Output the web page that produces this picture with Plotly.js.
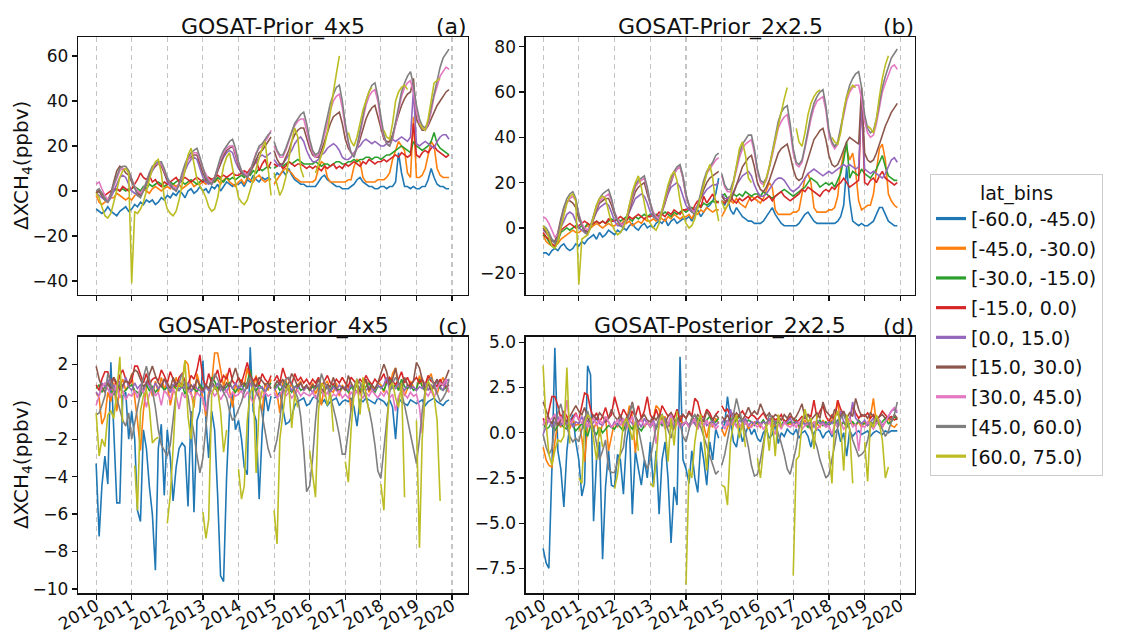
<!DOCTYPE html>
<html><head><meta charset="utf-8">
<script src="https://cdn.plot.ly/plotly-3.0.1.min.js"></script>
<style>html,body{margin:0;padding:0;background:#fff}#chart{width:1129px;height:634px}</style>
</head><body><div id="chart"></div>
<script>
// ---------------- categories / labels ----------------
const latBins = ['[-60.0, -45.0)','[-45.0, -30.0)','[-30.0, -15.0)','[-15.0, 0.0)','[0.0, 15.0)','[15.0, 30.0)','[30.0, 45.0)','[45.0, 60.0)','[60.0, 75.0)'];
const panelTitles = ['GOSAT-Prior_4x5','GOSAT-Prior_2x2.5','GOSAT-Posterior_4x5','GOSAT-Posterior_2x2.5'];
const panelTags = ['(a)','(b)','(c)','(d)'];
const firstYear = 2010, lastYear = 2019;

// ---------------- GOSAT-Prior_4x5 (ppbv), monthly Jan 2010 - Dec 2019 ----------------
const prior4x5_m60 = [-8,-9,-10,-9,-7,-9,-10,-11,-9,-8,-7,-9, -8,-6,-7,-5,-6,-4,-5,-4,-6,-5,-3,-4, -2,-3,-1,-2,0,-1,-3,0,1,-1,0,2, 0,1,-1,2,1,3,0,2,4,3,2,3, 3,4,2,5,4,7,5,4,6,5,6,5, 6,8,7,9,7,10,7,5,4,3,3,2, 2,2,2,4,6,7,5,4,3,2,2,1, 1,1,2,3,5,6,4,3,2,2,1,1, 2,2,1,2,2,4,17,8,2,2,1,2, 1,1,2,2,5,10,6,3,2,2,1,1];
const prior4x5_m45 = [-2,-5,-6,-5,-4,-3,-3,-1,-2,-3,-4,-3, -4,-2,-1,0,1,0,-1,1,2,1,0,1, 2,1,3,2,3,1,2,3,4,2,3,3, 4,3,4,5,4,5,3,5,6,4,3,2, 4,5,3,6,5,4,6,7,5,4,5,5, 3,5,7,9,10,9,8,6,5,4,4,4, 4,4,5,10,13,12,6,4,4,4,4,4, 4,5,5,11,14,13,6,4,4,4,4,5, 5,5,6,8,14,18,22,20,18,8,6,33, 6,6,7,10,16,22,20,10,7,6,6,6];
const prior4x5_m30 = [-1,0,-2,-3,-4,-2,0,1,0,1,0,1, 1,2,1,0,2,1,3,2,3,4,3,2, 3,4,3,4,5,4,3,4,5,4,3,4, 5,4,6,5,4,6,5,4,6,5,6,5, 6,7,6,8,7,9,8,10,9,10,11,10, 10,11,12,11,12,13,12,13,14,13,12,12, 12,12,13,12,11,12,12,11,12,13,13,12, 12,13,13,14,13,14,14,15,15,14,15,15, 14,15,16,16,17,18,19,20,19,18,17,22, 20,19,18,19,20,22,26,21,19,18,17,16];
const prior4x5_m15 = [0,0,-1,-2,-1,0,1,1,0,2,1,0, 1,3,5,8,6,5,7,4,5,3,2,4, 3,4,5,6,4,5,6,5,4,5,6,5, 4,5,6,5,6,7,6,7,6,7,8,7, 7,8,9,8,10,11,14,9,12,14,10,13, 12,11,12,10,11,13,12,11,12,12,11,10, 11,10,11,10,9,11,10,11,12,10,11,10, 12,11,12,13,12,11,13,12,14,13,12,13, 13,14,13,14,15,16,15,17,16,15,16,30, 16,15,17,18,17,19,20,18,17,16,15,16];
const prior4x5_p0 = [-1,-2,-3,-4,-5,-3,0,3,6,7,6,3, 0,-1,-2,-1,0,3,6,9,11,13,12,8, 4,2,1,1,3,6,9,12,14,15,14,10, 6,4,3,4,6,9,12,15,17,18,17,13, 10,8,7,7,9,11,13,15,16,15,16,17, 14,12,11,12,14,16,18,21,23,24,22,18, 15,13,13,14,16,17,19,20,21,20,18,15, 14,14,15,17,19,20,22,23,22,21,22,21, 20,20,21,22,23,22,23,24,23,22,24,45, 21,20,21,22,21,20,19,22,24,25,25,23];
const prior4x5_p15 = [-1,0,-2,-4,-4,-1,4,9,11,10,8,7, 4,1,-1,-2,0,3,7,10,11,12,11,8, 5,3,1,0,3,7,11,14,15,16,16,12, 8,5,4,3,5,9,13,16,18,19,20,16, 11,8,7,6,8,11,14,17,18,20,22,24, 18,14,12,12,15,18,22,25,27,28,28,24, 19,16,15,15,18,22,26,30,33,34,35,30, 23,19,17,16,19,23,28,32,35,37,38,33, 27,23,22,22,25,30,34,38,41,43,44,50, 32,29,27,27,29,32,35,38,40,42,44,45];
const prior4x5_p30 = [3,4,1,-2,-4,-2,2,6,9,10,10,9, 5,2,0,-1,1,4,8,10,12,12,12,9, 6,3,2,1,3,7,11,14,16,17,17,14, 10,7,5,4,6,10,14,17,19,20,20,17, 12,9,8,7,9,13,17,19,20,22,24,27, 20,17,15,15,18,22,26,29,31,32,32,27, 21,17,15,16,20,25,30,36,40,42,43,37, 28,21,17,16,19,25,32,38,42,44,45,40, 30,24,21,20,23,29,36,42,46,48,49,44, 35,30,28,27,30,35,42,47,51,53,55,54];
const prior4x5_p45 = [0,1,-1,-4,-5,-2,3,7,10,11,11,9, 5,1,-2,-3,0,4,8,11,12,13,13,10, 6,3,1,0,3,8,12,15,17,18,19,15, 10,6,4,3,6,11,15,18,20,22,23,19, 13,9,7,6,9,13,17,20,21,23,25,26, 22,18,16,16,19,23,27,30,32,34,35,30, 23,18,16,17,21,27,33,39,43,46,47,40, 30,22,17,15,20,27,34,40,44,47,48,42, 33,25,21,20,24,31,38,44,48,51,53,47, 38,32,29,28,31,37,44,50,55,59,61,63];
const prior4x5_p60 = [-1,-3,-7,-11,-12,-10,-5,1,6,9,10,8, -41,-9,-10,-8,-5,0,5,10,13,14,8,-3, -8,-10,-11,-9,-4,3,10,16,19,12,5,2, 0,-3,-7,-9,-8,-3,4,11,15,17,10,3, -3,-5,-6,-4,0,5,10,15,19,22,10,-2, 8,2,-2,1,6,14,22,28,24,10,6,null, null,null,8,12,16,20,26,34,44,52,60,null, null,26,22,20,24,30,36,40,44,46,null,null, null,27,24,23,30,40,44,46,47,45,null,null, null,30,28,27,32,40,48,49,50,null,null,null];

// ---------------- GOSAT-Prior_2x2.5 (ppbv) ----------------
const prior2x25_m60 = [-11,-11,-12,-10,-9,-10,-8,-7,-9,-10,-9,-7, -8,-6,-7,-5,-4,-3,-5,-2,-4,-3,-1,-2, -3,-1,-2,0,-1,1,2,0,-1,1,2,0, 1,0,2,3,2,4,1,3,4,2,3,4, 4,5,3,6,8,5,7,9,10,12,15,22, 12,10,13,8,6,9,7,5,4,3,3,2, 2,2,3,5,7,9,6,4,2,1,1,1, 1,1,2,4,6,7,5,3,2,2,2,2, 2,2,2,3,5,10,27,12,3,2,1,2, 1,1,2,3,6,9,9,6,3,2,1,1];
const prior2x25_m45 = [-3,-6,-7,-8,-8,-7,-5,-4,-3,-2,-1,-2, -2,-1,0,1,0,1,2,1,0,1,2,1, 1,2,1,3,2,3,1,2,3,2,4,3, 3,4,3,5,4,3,5,4,6,5,4,5, 5,6,4,7,6,8,7,9,8,7,8,8, 5,8,10,12,11,13,11,10,9,12,14,13, 12,11,13,17,20,18,8,6,6,6,6,6, 7,7,8,15,22,24,20,9,7,7,7,7, 8,8,9,14,26,33,35,30,33,25,12,8, 9,10,10,15,25,35,37,30,15,12,10,9];
const prior2x25_m30 = [-3,-4,-6,-8,-9,-6,-2,-1,0,-1,0,1, 0,1,0,2,1,2,3,2,3,2,3,4, 3,4,3,4,5,4,3,5,4,5,6,5, 6,5,6,5,6,7,6,5,7,6,7,8, 7,8,9,8,10,9,11,10,11,12,11,12, 14,15,13,14,15,14,15,14,16,15,14,15, 15,14,16,15,14,13,14,15,16,17,16,15, 14,15,16,17,18,20,22,21,20,18,19,20, 19,20,18,21,24,30,38,22,25,24,23,26, 24,23,22,24,26,29,32,27,23,22,21,21];
const prior2x25_m15 = [-2,-4,-5,-7,-8,-5,-1,0,1,2,1,0, 1,2,3,2,1,2,3,2,3,2,4,3, 3,4,5,4,3,5,4,5,6,5,4,5, 5,6,5,7,6,5,7,6,8,7,6,8, 8,9,7,10,12,9,14,11,13,15,12,11, 12,11,13,14,12,11,13,12,13,14,12,13, 14,13,12,13,14,12,14,15,16,14,13,12, 13,14,15,17,16,18,17,16,15,14,16,17, 16,18,17,19,20,22,20,18,19,20,21,58, 20,19,21,22,20,23,25,22,21,20,19,20];
const prior2x25_p0 = [-1,-2,-3,-5,-6,-4,0,3,6,7,6,3, 0,-1,-2,-1,1,4,7,9,10,11,10,7, 3,1,1,2,4,7,10,13,14,15,14,11, 7,5,4,5,8,12,15,18,19,20,18,14, 10,8,7,8,10,13,15,17,18,19,19,20, 15,13,13,14,16,19,21,23,24,25,23,19, 16,14,14,15,17,19,21,22,22,21,19,17, 16,17,18,20,22,24,25,26,25,24,23,24, 25,24,25,26,27,28,27,28,27,26,27,56, 26,25,24,25,24,23,22,24,27,30,31,29];
const prior2x25_p15 = [0,-2,-4,-6,-6,-2,4,9,12,12,11,9, 4,1,-1,-2,0,4,8,11,12,13,13,10, 6,3,2,1,3,8,12,16,18,19,20,15, 10,6,5,4,7,11,16,20,24,26,27,22, 14,10,8,7,9,13,17,20,22,23,24,25, 14,12,12,12,15,19,23,27,29,31,32,27, 20,17,16,18,21,25,29,33,35,36,37,32, 26,22,21,22,26,31,35,39,41,43,44,39, 32,28,27,28,31,35,38,40,39,38,37,62, 33,30,29,30,33,37,41,45,48,51,53,55];
const prior2x25_p30 = [5,4,2,-1,-4,-3,2,7,11,13,14,12, 6,2,0,-1,1,5,9,12,13,14,15,12, 7,4,2,1,4,9,14,18,20,21,22,17, 11,7,5,4,7,12,17,21,24,26,27,22, 14,10,8,7,10,15,20,24,26,28,30,31, 23,18,16,16,20,26,31,35,37,38,39,33, 25,20,19,21,26,32,38,44,47,49,50,43, 33,28,27,29,35,42,48,53,56,57,58,52, 41,37,35,37,43,50,56,60,62,63,63,57, 47,42,40,41,46,53,60,64,68,71,72,70];
const prior2x25_p45 = [1,0,-2,-5,-7,-4,3,9,13,15,16,13, 6,1,-2,-3,1,6,10,13,15,16,17,13, 7,3,1,0,4,10,15,19,21,22,23,18, 11,6,4,3,7,13,18,22,25,27,28,23, 15,10,7,6,10,16,21,25,27,29,32,33, 24,19,17,17,21,27,33,37,39,41,41,35, 26,21,20,22,27,34,41,47,51,53,54,46, 35,29,28,30,36,43,50,55,58,60,61,54, 43,38,36,38,44,51,58,63,66,68,69,62, 50,44,42,43,48,55,62,67,71,75,77,79];
const prior2x25_p60 = [1,-1,-4,-8,-9,-6,0,6,11,14,15,12, -25,-5,-4,-3,0,5,10,13,14,13,8,2, -1,-3,-2,0,4,10,16,20,23,18,10,4, 2,0,-1,2,8,14,19,23,25,21,12,6, 2,0,1,4,9,15,20,24,28,22,10,3, 12,8,10,14,20,28,35,38,32,22,20,null, null,null,18,22,27,33,40,46,52,57,62,null, null,44,38,36,42,50,55,58,60,61,null,null, null,40,38,37,42,52,58,61,63,62,null,null, null,45,44,42,48,58,66,72,76,null,null,null];

// ---------------- GOSAT-Posterior_4x5 (ppbv) ----------------
const post4x5_m60 = [-3.3,-7.2,-4.5,-2.9,-4.4,2.1,-1.5,-5.4,-5.4,0.3,0.5,-2.0, -0.5,-2.0,-5.8,-6.4,-1.5,-2.5,-4.5,-6.0,-9.0,-2.5,-1.2,-5.0, -1.5,-3.0,-5.3,-3.5,-2.5,-2.2,-2.4,-5.6,-0.5,-5.9,-1.0,-0.5, 2.2,-1.0,-3.0,-0.5,-1.5,-5.0,-9.3,-9.6,-4.0,-0.5,0.4,-1.5, -1.0,-2.0,-3.5,-3.9,2.9,-0.5,-1.0,-5.2,-1.6,0.5,-0.5,0.3, 0.2,0.3,0.5,-0.3,-1.2,-1.1,-0.8,-0.2,0.0,0.1,0.2,-0.2, -0.1,0.2,0.3,0.0,-0.1,0.1,-0.2,0.0,0.1,0.2,-0.2,0.0, 0.1,0.0,0.2,-0.3,-1.3,0.1,0.0,0.2,0.1,0.0,-0.1,0.2, 0.1,0.0,-0.2,0.1,-0.3,-2.0,0.2,0.0,-0.1,-0.2,0.1,0.0, -0.1,0.0,0.1,-0.2,0.0,0.1,0.2,0.0,-0.1,-0.2,0.0,0.1];
const post4x5_m45 = [0.5,0.2,-1.2,-0.8,0.5,0.0,1.0,-0.5,0.8,1.2,0.6,0.9, 1.5,0.3,-1.0,-2.6,-0.5,0.8,1.2,0.3,1.1,0.5,1.3,0.7, 1.0,-0.2,0.5,1.3,0.8,1.0,2.2,2.0,0.5,-0.3,1.5,0.8, 0.2,-0.8,0.5,1.0,2.6,2.6,1.8,0.8,1.5,0.6,-0.3,1.0, 0.5,1.2,0.8,1.8,1.0,0.7,1.4,0.2,-0.5,1.0,0.6,1.2, 0.8,0.4,-0.6,1.0,1.2,0.5,1.0,0.3,0.9,1.1,0.6,0.8, 0.7,1.0,0.4,0.8,-0.2,0.9,1.1,0.6,0.5,1.0,0.3,0.9, 0.6,0.9,-0.5,0.8,1.0,0.4,0.7,1.2,0.5,0.8,0.6,1.0, 0.9,0.5,1.2,0.8,1.5,1.8,0.6,1.0,0.3,0.7,1.1,0.8, 0.6,1.4,0.9,0.5,1.2,1.5,0.8,0.4,1.0,1.3,0.7,0.5];
const post4x5_m30 = [0.7,0.9,0.5,0.8,1.0,0.6,0.4,0.7,0.9,0.5,0.6,0.8, 0.9,0.6,0.5,0.3,0.7,0.9,0.6,0.8,0.5,0.7,0.9,0.6, 0.8,0.5,0.9,0.7,0.6,0.9,0.4,0.8,0.6,0.7,0.5,0.9, 0.7,0.8,0.6,1.3,1.1,0.7,0.9,0.6,0.8,1.0,0.7,0.5, 0.8,0.6,0.9,1.0,1.7,0.8,0.6,0.9,0.7,0.5,0.8,1.0, 0.7,0.9,0.6,0.8,1.0,0.7,0.5,0.8,0.9,0.6,0.7,0.8, 0.6,0.8,0.7,0.9,0.5,0.7,0.8,0.6,0.9,0.7,0.6,0.8, 0.7,0.5,0.8,0.6,0.9,0.7,0.6,0.8,1.0,0.7,0.5,0.8, 0.8,0.6,1.0,1.2,0.7,0.9,0.6,1.2,0.8,0.7,0.9,0.6, 0.7,1.2,0.8,0.6,1.0,0.7,0.9,1.1,0.7,0.6,0.8,0.9];
const post4x5_m15 = [0.9,0.6,1.2,1.6,1.6,1.0,1.3,0.8,1.4,1.7,1.2,0.9, 1.1,1.9,1.9,1.4,1.0,1.5,0.9,1.2,1.3,1.1,1.7,1.4, 1.0,1.6,1.2,0.8,1.3,1.5,1.1,0.9,1.4,1.2,1.7,2.5, 1.2,0.8,1.5,1.0,1.3,1.7,1.0,1.4,1.2,1.8,1.1,0.9, 1.3,1.0,1.5,2.1,1.4,1.1,1.3,0.9,1.5,1.2,1.0,1.4, 1.1,1.4,1.0,1.8,1.3,1.2,0.9,1.5,1.1,1.3,1.0,1.2, 0.9,1.2,1.0,1.3,0.8,1.1,1.4,1.0,0.9,1.2,1.0,1.3, 1.0,0.8,1.3,1.1,0.9,1.2,1.0,1.4,1.1,0.9,1.2,1.0, 1.2,1.5,1.0,1.3,1.1,0.9,1.2,1.6,1.0,1.3,0.9,1.1, 1.3,1.0,1.2,0.9,1.4,1.1,1.0,0.8,1.2,0.9,0.8,0.9];
const post4x5_p0 = [0.5,0.3,1.0,0.8,1.2,0.6,0.9,0.5,1.1,0.7,1.3,0.8, 0.6,1.0,0.7,0.9,0.5,1.1,0.8,0.6,1.0,0.7,0.9,1.2, 0.8,0.5,0.9,1.0,0.6,0.8,0.7,1.0,0.5,0.9,0.7,0.6, 0.5,0.8,0.6,0.9,0.7,1.0,0.6,0.8,0.5,0.9,0.7,1.0, 0.7,0.9,0.5,0.8,1.0,0.6,0.9,0.7,0.8,0.5,0.9,0.7, 0.6,0.8,1.0,0.7,0.5,0.9,0.6,0.8,0.7,1.0,0.6,0.8, 0.7,0.5,0.8,0.9,0.6,0.7,0.9,0.5,0.8,0.6,0.9,0.7, 0.8,0.6,0.9,0.7,0.5,0.8,1.0,0.6,0.8,0.7,0.6,0.9, 0.7,0.9,1.3,0.6,0.8,0.7,1.0,0.8,0.6,0.9,0.7,0.8, 0.6,0.8,0.7,1.0,0.6,0.9,0.7,1.2,0.8,0.6,1.1,1.2];
const post4x5_p15 = [1.9,1.2,0.8,0.5,1.0,0.7,1.3,1.0,0.6,0.9,1.1,1.0, 1.4,1.7,1.6,1.2,0.8,1.0,1.5,1.9,1.4,1.0,0.8,1.2, 1.0,0.7,1.3,0.9,1.1,0.8,1.0,0.6,0.9,0.7,1.2,0.8, 0.6,0.9,0.7,1.1,0.8,0.5,0.9,0.7,1.0,0.8,1.3,1.8, 1.2,0.9,1.0,0.7,1.4,1.0,0.8,1.3,1.1,0.9,1.0,0.7, 0.8,1.1,0.9,1.2,0.7,1.0,1.5,1.2,0.8,1.0,0.7,0.9, 0.6,0.9,0.8,1.2,0.7,0.5,0.9,0.8,1.3,0.7,0.5,0.8, 0.6,1.4,1.0,0.7,0.9,0.5,0.8,1.2,0.6,0.9,0.7,1.0, 1.5,2.0,1.6,0.9,1.2,1.8,1.0,0.7,1.3,0.9,0.8,1.1, 2.1,1.8,1.2,0.7,1.0,0.5,0.9,1.2,0.8,1.0,1.3,1.7];
const post4x5_p30 = [-0.2,0.3,0.8,1.0,0.7,0.3,0.5,0.9,0.2,0.6,0.1,0.4, 0.3,0.6,0.2,0.8,0.5,-0.3,0.4,0.7,0.3,0.5,-0.2,0.6, 0.4,0.1,0.7,0.3,-0.4,0.5,0.2,0.6,0.4,0.1,0.5,0.3, 0.2,-0.5,0.4,0.6,0.3,0.5,0.1,0.4,0.6,0.2,0.5,0.3, 0.4,0.6,0.2,0.5,0.3,-0.1,0.4,0.6,0.2,0.5,0.3,0.4, 0.5,0.2,0.4,0.6,0.3,0.5,0.2,0.4,0.6,0.3,0.5,0.4, 0.3,0.5,0.2,0.4,0.6,0.3,0.5,0.2,0.4,0.3,0.6,0.2, 0.4,0.2,0.5,0.3,0.6,0.4,0.2,0.5,0.3,0.6,0.4,0.2, 0.5,0.3,0.6,0.2,0.4,-0.5,0.3,0.6,0.4,0.2,0.5,0.3, 0.4,-0.3,-1.7,0.5,0.3,0.6,0.2,0.7,1.0,0.9,1.2,0.5];
const post4x5_p45 = [-0.7,-0.6,-0.2,0.3,1.5,1.0,0.6,0.2,-0.5,-1.0,-1.3,-0.6, -2.0,-1.2,-0.5,0.5,1.3,1.9,1.2,0.6,-0.3,-1.5,-2.3,-2.6, -2.9,-2.3,-1.0,0.5,1.0,1.5,0.8,0.3,-0.8,-1.7,-2.9,-3.8, -3.0,-1.2,0.2,0.9,1.5,1.2,0.8,0.5,0.2,-0.5,-1.0,-0.8, -0.4,0.0,0.5,1.0,1.3,0.8,0.5,0.2,-0.7,-1.6,-2.5,-3.0, -2.7,-2.0,-1.0,0.5,1.2,1.3,1.0,0.6,0.2,-0.8,-2.5,-4.8, -4.5,-3.0,-1.0,0.6,1.5,1.0,0.8,0.3,-0.3,-1.0,-1.8,-2.8, -2.8,-1.5,-0.3,0.8,1.2,1.0,0.6,0.2,-0.4,-1.2,-2.3,-3.7, -4.1,-2.5,-0.8,0.5,1.0,1.3,1.0,0.5,-0.2,-1.0,-1.8,-2.6, -3.3,-2.0,-0.5,0.6,1.1,1.3,0.9,0.4,0.0,0.2,0.5,1.2];
const post4x5_p60 = [-0.6,-2.9,-2.0,-2.4,-0.7,-0.5,-0.9,0.5,2.4,-1.1,null,null, null,-3.4,-5.8,-0.5,0.3,0.6,-0.3,-2.2,-2.0,-1.9,null,null, -6.5,-5.0,-2.5,0.5,1.0,0.8,2.2,-0.8,-2.0,0.3,null,null, -5.9,-7.3,-6.3,0.4,0.8,0.6,-0.5,-2.7,-1.5,null,null,null, -3.6,-5.2,-4.5,-1.0,0.5,0.8,-3.8,-0.3,0.6,null,null,null, -5.8,-7.6,-2.0,-0.5,0.6,0.9,-1.4,0.4,-0.3,null,null,null, -2.6,-4.0,-5.1,-0.5,1.0,0.7,-0.2,0.5,-1.6,null,null,null, -3.2,-4.3,-1.5,0.5,1.2,-0.7,1.3,0.3,-0.5,null,null,null, -4.4,-5.8,-1.8,0.8,1.0,0.2,-0.3,1.0,-5.1,null,null,null, -1.0,-7.8,-2.0,0.5,1.1,0.8,0.3,-1.0,-5.3,null,null,null];

// ---------------- GOSAT-Posterior_2x2.5 (ppbv) ----------------
const post2x25_m60 = [-6.4,-7.2,-7.5,-2.0,4.7,-1.0,-2.0,-4.1,-1.0,0.5,1.0,-0.5, -1.5,-3.5,-2.8,3.7,3.2,-4.9,-1.5,-0.5,-7.0,-3.0,-1.0,-2.9, -3.0,-1.2,-1.5,-3.4,-0.5,0.5,-4.5,-1.0,-2.0,-2.9,-1.5,-2.5, -0.5,-3.0,-1.0,-4.5,-1.5,-0.5,-2.5,-6.1,-3.0,-4.0,4.2,-1.5, -2.0,-2.8,-1.0,-2.5,-3.3,-0.5,-1.5,-2.9,-0.5,-1.5,0.2,-0.3, 0.2,0.5,2.0,0.8,-0.5,-0.8,0.3,-0.5,0.0,0.4,-0.1,0.2, -0.3,-0.5,0.0,0.2,-0.3,-0.1,0.5,-0.6,0.0,-0.2,0.2,0.0, -0.1,0.2,-0.3,0.0,0.1,-0.2,-0.8,0.0,0.2,0.1,-0.3,0.0, 0.1,-0.2,0.0,0.2,-0.5,0.0,-1.3,0.1,-0.2,0.0,0.1,-0.1, 0.0,0.1,-0.2,0.0,0.1,0.0,-0.1,0.1,0.0,0.1,0.1,0.1];
const post2x25_m45 = [-0.8,-1.5,-1.8,-1.9,-0.5,0.6,0.3,0.9,0.5,0.2,0.7,0.4, 0.5,-0.3,-1.6,0.4,0.8,0.2,0.6,-0.2,0.5,0.9,-1.0,-0.3, 0.6,0.3,0.8,0.2,0.5,1.5,0.9,-1.1,0.5,0.8,0.3,0.6, 0.4,0.8,1.5,1.3,0.6,0.9,0.3,0.7,0.2,0.5,0.9,0.4, 0.6,0.3,0.8,0.5,0.2,0.7,0.4,-0.3,0.6,0.3,0.8,0.5, 0.2,-0.2,0.3,0.6,0.4,0.8,0.3,0.5,0.7,0.2,0.4,0.6, 0.5,0.3,0.7,0.4,0.6,0.2,0.5,0.8,0.3,0.6,0.4,0.5, 0.4,0.6,0.3,0.5,0.7,0.4,0.2,0.6,0.5,0.3,0.7,0.4, 0.5,0.7,0.9,1.8,0.4,0.6,0.3,0.8,0.5,0.4,0.6,0.3, 0.6,0.4,0.9,1.9,0.5,0.7,0.3,0.6,0.8,0.4,0.3,0.5];
const post2x25_m30 = [0.5,0.2,0.3,0.6,0.1,0.4,0.5,0.3,0.2,0.6,0.4,0.1, 0.3,0.5,0.2,-0.2,0.4,0.1,-0.1,0.3,0.0,0.2,0.4,0.3, 0.2,0.5,0.3,0.1,0.6,0.4,0.2,0.5,0.3,0.1,0.4,0.6, 0.3,0.5,0.2,0.6,0.4,0.7,0.5,0.3,0.6,0.8,0.4,0.5, 0.6,0.4,0.7,0.5,0.8,0.6,0.4,0.7,0.9,0.5,0.6,0.8, 0.5,0.7,0.6,0.8,0.5,0.7,0.9,0.6,0.5,0.7,0.6,0.4, 0.6,0.5,0.7,0.4,0.6,0.8,0.5,0.6,0.4,0.7,0.5,0.6, 0.5,0.7,0.4,0.6,0.5,0.3,0.6,0.4,0.5,0.7,0.4,0.6, 0.4,0.6,0.5,0.7,0.4,0.6,0.3,0.5,0.6,0.4,0.7,0.5, 0.5,0.4,0.6,0.5,0.7,0.4,0.6,0.8,0.5,0.6,0.9,0.7];
const post2x25_m15 = [0.8,0.4,1.2,2.0,2.0,1.5,0.8,1.2,0.9,0.5,0.8,1.1, 0.7,1.5,2.2,2.1,1.3,0.8,1.1,0.6,0.9,1.4,0.8,1.0, 2.0,1.4,0.8,1.3,1.0,0.7,1.2,0.9,1.5,0.8,1.2,2.0, 1.0,0.7,1.3,0.8,1.5,1.2,0.9,1.1,0.8,1.3,0.6,1.0, 0.8,1.2,0.9,1.9,1.7,1.0,0.8,1.3,1.1,0.7,1.0,1.2, 1.5,1.2,1.3,0.9,1.1,0.8,1.0,1.2,0.9,0.8,1.0,0.9, 0.7,0.9,1.1,0.8,0.6,0.9,0.7,0.8,1.0,0.6,0.7,0.9, 0.8,0.6,0.7,0.9,0.8,1.0,0.9,1.8,0.8,1.2,1.5,0.9, 0.6,1.0,0.7,1.8,1.3,1.0,0.8,0.7,1.5,1.1,0.8,1.0, 0.9,1.1,0.8,1.0,0.7,0.9,1.2,1.0,0.8,0.9,0.7,0.8];
const post2x25_p0 = [-0.1,0.4,0.8,0.3,0.6,0.9,0.4,0.7,0.5,0.8,0.3,0.6, 0.5,0.9,0.4,0.7,0.3,0.6,0.8,0.5,0.4,0.7,0.6,0.3, 0.6,0.4,0.8,0.5,0.3,0.7,0.5,0.4,0.6,0.3,0.8,0.5, 0.4,0.7,0.3,0.6,0.5,0.8,0.4,0.6,0.3,0.7,0.5,0.4, 0.6,0.4,0.7,0.5,0.3,0.6,0.8,0.4,0.5,0.7,0.4,0.6, 0.5,0.8,0.4,1.3,0.6,0.4,0.7,0.5,0.8,0.4,0.6,0.5, 0.7,0.4,0.6,0.5,0.8,0.4,0.6,0.7,0.4,0.5,0.6,0.8, 0.4,0.6,0.5,0.7,0.4,0.6,0.5,0.3,0.7,0.5,0.6,0.4, 0.6,0.5,0.8,0.4,1.2,0.6,0.5,0.7,1.7,0.8,0.6,0.5, 0.7,0.4,0.6,0.8,0.5,0.7,0.4,0.6,0.9,1.2,1.3,1.1];
const post2x25_p15 = [1.7,1.2,0.8,0.5,0.9,0.4,0.7,1.0,0.6,0.9,1.2,1.5, 1.2,1.0,1.4,0.8,0.6,1.0,0.7,1.1,0.9,0.6,0.8,1.3, 0.9,0.7,1.0,0.6,0.8,1.1,1.7,0.9,0.6,0.8,1.0,0.7, 0.6,0.9,0.7,1.0,0.8,0.5,0.9,1.1,0.7,0.6,0.9,1.0, 0.8,1.1,0.9,0.7,1.0,0.8,0.6,1.2,0.9,0.7,1.0,0.8, 0.9,0.7,1.0,0.6,0.8,1.1,0.9,0.7,1.0,1.4,1.0,1.2, 1.0,1.6,1.2,0.9,1.1,0.8,1.0,0.9,0.7,1.0,0.8,1.1, 0.7,0.9,1.2,1.6,0.8,1.0,0.7,0.9,1.1,0.8,1.7,1.2, 1.0,0.8,1.3,1.0,0.9,1.2,0.8,1.1,0.9,1.9,1.3,0.9, 1.0,0.8,1.1,0.9,0.7,0.9,1.0,0.8,0.9,0.7,1.0,0.8];
const post2x25_p30 = [0.4,0.9,0.6,0.8,1.0,0.6,0.9,0.4,1.8,0.5,0.7,1.0, 0.8,0.5,0.9,0.3,0.6,0.8,0.4,0.7,0.5,0.9,0.6,0.3, 0.5,0.7,0.4,0.8,0.2,0.6,0.9,0.3,0.5,0.7,0.4,0.6, 0.3,0.6,-0.6,0.4,0.7,0.2,0.5,1.0,0.4,0.6,0.3,0.5, 0.6,0.3,0.5,0.8,0.2,0.6,0.4,0.7,0.3,0.5,0.2,0.4, 0.5,0.2,0.6,0.4,0.7,0.3,0.5,0.2,0.6,0.4,0.3,0.5, 0.3,0.5,0.2,0.4,0.6,0.3,-0.1,0.5,0.2,0.6,0.4,0.3, 0.5,0.3,0.6,0.2,0.4,0.5,0.3,0.6,0.2,0.4,0.5,0.3, 0.4,-0.1,0.5,0.3,0.6,0.2,0.4,0.8,0.3,0.5,-1.0,0.4, 0.3,0.6,0.4,0.2,0.5,0.7,0.3,0.6,0.9,1.2,1.4,1.2];
const post2x25_p45 = [-0.1,-0.8,-1.2,-0.9,0.4,1.1,1.6,0.8,0.3,-0.2,-0.5,-0.3, -0.5,0.2,0.8,1.2,0.6,0.3,-0.6,-1.5,-1.0,-0.4,-2.0,-2.2, -2.2,-1.6,-1.2,-0.8,0.5,1.0,1.6,0.8,0.2,-0.6,-1.5,-2.0, -1.5,-0.5,0.3,0.8,1.0,0.6,0.2,-0.3,0.4,0.8,0.5,-0.2, -0.5,0.2,0.8,1.0,0.6,0.3,-0.2,-0.8,-1.2,-1.8,-2.3,-2.1, -1.8,-1.2,-0.4,0.5,1.0,1.9,1.2,0.6,0.0,-0.8,-1.8,-2.4, -2.3,-1.5,-0.5,0.4,1.0,0.8,0.5,0.0,-0.6,-1.2,-2.0,-2.3, -1.6,-0.8,0.2,0.7,1.0,0.6,0.2,-0.3,-0.8,-1.5,-2.0,-2.5, -2.3,-1.5,-0.7,0.3,0.8,1.0,0.6,0.2,-0.4,-0.8,-1.3,-1.2, -1.0,-0.4,0.3,0.6,0.8,0.5,0.2,-0.2,0.1,0.6,1.0,1.7];
const post2x25_p60 = [3.7,0.5,-1.2,-1.8,-1.0,-0.4,-0.5,-0.2,3.6,-0.6,null,null, -2.5,-2.8,0.5,1.0,0.8,-0.5,-1.5,0.3,-0.8,null,null,null, -3.1,-2.3,-1.0,0.5,0.8,0.3,-0.4,0.6,-1.0,null,null,null, -2.8,-3.0,-1.5,0.6,1.0,0.4,-1.6,0.8,-0.7,1.2,null,null, -8.4,-2.0,-2.5,-0.5,0.6,1.0,-0.2,-2.1,0.5,null,null,null, -2.9,-3.0,-4.0,-0.5,0.5,1.0,-0.3,0.6,-0.8,null,null,null, -1.4,-2.5,-1.0,0.5,-1.0,0.8,-1.3,1.0,0.3,null,null,null, -7.9,-1.5,-1.3,0.5,1.3,0.6,0.8,-0.9,1.0,null,null,null, -1.0,-2.8,0.8,1.2,0.4,-2.1,1.0,0.2,-2.8,null,null,null, -0.5,-2.7,0.6,0.3,1.0,0.5,-0.4,-2.5,-1.9,null,null,null];

const panelSeries = [
  [prior4x5_m60,prior4x5_m45,prior4x5_m30,prior4x5_m15,prior4x5_p0,prior4x5_p15,prior4x5_p30,prior4x5_p45,prior4x5_p60],
  [prior2x25_m60,prior2x25_m45,prior2x25_m30,prior2x25_m15,prior2x25_p0,prior2x25_p15,prior2x25_p30,prior2x25_p45,prior2x25_p60],
  [post4x5_m60,post4x5_m45,post4x5_m30,post4x5_m15,post4x5_p0,post4x5_p15,post4x5_p30,post4x5_p45,post4x5_p60],
  [post2x25_m60,post2x25_m45,post2x25_m30,post2x25_m15,post2x25_p0,post2x25_p15,post2x25_p30,post2x25_p45,post2x25_p60]
];

// ---------------- styles / layout ----------------
const colors = ['#1f77b4','#ff7f0e','#2ca02c','#d62728','#9467bd','#8c564b','#e377c2','#7f7f7f','#bcbd22'];
const W = 1129, H = 634;
const FONT = 'DejaVu Sans, Liberation Sans, sans-serif';
const px = v => v / W, py = v => 1 - v / H;

// month dates; the two record segments (2010-2014, 2015-2019) are not joined
const months = [];
for (let y = firstYear; y <= lastYear; y++) for (let m = 1; m <= 12; m++) months.push(y + '-' + String(m).padStart(2,'0') + '-01');
const xs = months.slice(0,60).concat(['2014-12-16']).concat(months.slice(60));
const withGap = a => a.slice(0,60).concat([null]).concat(a.slice(60));

const traces = [];
panelSeries.forEach((series, p) => {
  const sfx = p === 0 ? '' : String(p + 1);
  series.forEach((vals, i) => {
    traces.push({type:'scatter', mode:'lines', x: xs, y: withGap(vals), xaxis:'x'+sfx, yaxis:'y'+sfx,
      line:{color: colors[i], width:1.6}, showlegend:false, hoverinfo:'skip'});
  });
});
// legend entries (thicker line samples like the reference)
latBins.forEach((name, i) => {
  traces.push({type:'scatter', mode:'lines', x:[null], y:[null], xaxis:'x', yaxis:'y', name: name,
    legendgroup: 'g'+i, line:{color: colors[i], width:3.2}, showlegend:true});
});

const boxes = [
  {x0:78, x1:468, y0:37, y1:295, xr:['2009-06-29','2020-06-13'], yr:[-46.2,68.4], dt:20, t0:-40, fmt:'', lab:false},
  {x0:525.7, x1:915, y0:37, y1:295, xr:['2009-07-07','2020-05-30'], yr:[-29.6,84.3], dt:20, t0:-20, fmt:'', lab:false},
  {x0:78, x1:468, y0:336.7, y1:593.3, xr:['2009-06-29','2020-06-13'], yr:[-10.23,3.47], dt:2, t0:-10, fmt:'', lab:true},
  {x0:525.7, x1:915, y0:336.7, y1:593.3, xr:['2009-07-07','2020-05-30'], yr:[-8.88,5.31], dt:2.5, t0:-7.5, fmt:'.1f', lab:true}
];

const layout = {
  width: W, height: H, margin:{l:0,r:0,t:0,b:0}, paper_bgcolor:'#fff', plot_bgcolor:'#fff',
  font:{family: FONT, size:17, color:'#111'},
  showlegend:true,
  legend:{x: px(930), y: py(174), xanchor:'left', yanchor:'top', bgcolor:'rgba(255,255,255,0.9)',
    bordercolor:'#cccccc', borderwidth:1, font:{family:FONT, size:19, color:'#111'},
    title:{text:'lat_bins', side:'top center', font:{family:FONT, size:19, color:'#111'}},
    tracegroupgap:2, indentation: 0},
  annotations: [], shapes: []
};

boxes.forEach((b, p) => {
  const sfx = p === 0 ? '' : String(p + 1);
  layout['xaxis'+sfx] = {domain:[px(b.x0), px(b.x1)], anchor:'y'+sfx, type:'date', range:b.xr,
    tick0:'2010-01-01', dtick:'M12', tickformat:'%Y', ticks:'outside', ticklen:5, tickwidth:1.2, tickcolor:'#111',
    showticklabels:b.lab, tickangle:-30, tickfont:{size:17}, ticklabelstandoff:-10,
    showgrid:true, gridcolor:'#c4c4c4', gridwidth:1.1, griddash:'5px,4px',
    showline:true, mirror:true, linecolor:'#111', linewidth:1.3, zeroline:false};
  layout['yaxis'+sfx] = {domain:[py(b.y1), py(b.y0)], anchor:'x'+sfx, range:b.yr, tick0:b.t0, dtick:b.dt,
    tickformat:b.fmt, ticks:'outside', ticklen:5, tickwidth:1.2, tickcolor:'#111', tickfont:{size:17},
    showgrid:false, zeroline:false, showline:true, mirror:true, linecolor:'#111', linewidth:1.3};
  const titleY = p < 2 ? 27 : 326;
  layout.annotations.push({xref:'paper', yref:'paper', x: px((b.x0+b.x1)/2), y: py(titleY), xanchor:'center', yanchor:'middle',
    text: panelTitles[p], showarrow:false, font:{size:22, family:FONT, color:'#111'}});
  layout.annotations.push({xref:'paper', yref:'paper', x: px(b.x1+1), y: py(titleY), xanchor:'right', yanchor:'middle',
    text: panelTags[p], showarrow:false, font:{size:22, family:FONT, color:'#111'}});
  if (p % 2 === 0) {
    layout.annotations.push({xref:'paper', yref:'paper', x: px(22), y: py((b.y0+b.y1)/2), xanchor:'center', yanchor:'middle',
      text:'ΔXCH<sub>4</sub>(ppbv)', textangle:-90, showarrow:false, font:{size:20, family:FONT, color:'#111'}});
  }
});

Plotly.newPlot('chart', traces, layout, {displayModeBar:false, staticPlot:true});
</script>
</body></html>
